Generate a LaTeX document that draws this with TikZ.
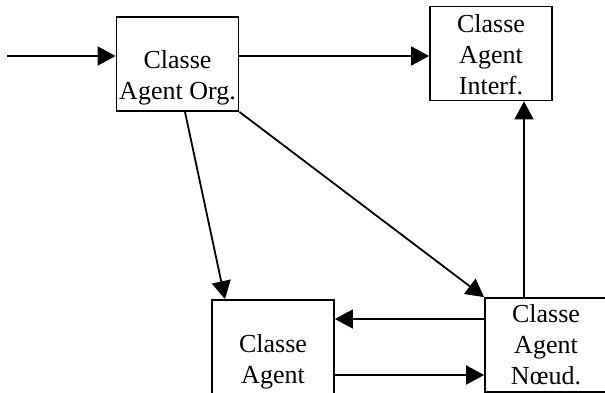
\documentclass[tikz,border=0pt]{standalone}
\usepackage{fontspec}
\setmainfont{Liberation Serif}
\usepackage{tikz}
\usetikzlibrary{ arrows.meta, calc }
\tikzset{
>={Triangle[length=18pt,width=19pt]}, % bold filled heads
classbox/.style={draw, line width=1.8pt, minimum width=122pt, minimum height=94pt, inner sep=0pt},
classtext/.style={align=center, inner sep=0pt, anchor=base, font=\fontsize{26}{31}\selectfont},% base = last line
link/.style={->, line width=1.8pt},
}

\begin{document}
\begin{tikzpicture}[x=1pt,y=1pt]
  \clip (0,0) rectangle (605,-392);%same frame as the original

  \node[classbox] (org) at (177.5,-64) {};
  \node[classbox] (interf) at (491,-53.5) {};
  \node[classbox] (agent) at (273,-347) {};
  \node[classbox] (noeud) at (546,-345) {};

  \node[classtext] (orgtxt) at (177.5,-99) {Classe\\Agent Org.};
  \node[classtext] (interftxt) at (491,-94) {Classe\\Agent\\Interf.};
  \node[classtext] (agenttxt) at (273,-383) {Classe\\Agent};
  \node[classtext] (noeudtxt) at (546,-384) {Classe\\Agent\\Nœud.};

  \coordinate (in) at (7,-56);
  \draw[link] (in) -- (in -| org.west);
  \draw[link] (in -| org.east) -- (in -| interf.west);
  \draw[link] ([xshift=7.5pt]org.south) -- ([xshift=-48pt]agent.north);
  \draw[link] (org.south east) -- (noeud.north west);
  \draw[link] ([xshift=-22pt]noeud.north) coordinate (up) -- (up |- interf.south);
  \draw[link] ([yshift=26pt]noeud.west) coordinate (back) -- (back -| agent.east);
  \draw[link] ([yshift=-28pt]agent.east) coordinate (fwd) -- (fwd -| noeud.west);
\end{tikzpicture}
\end{document}
